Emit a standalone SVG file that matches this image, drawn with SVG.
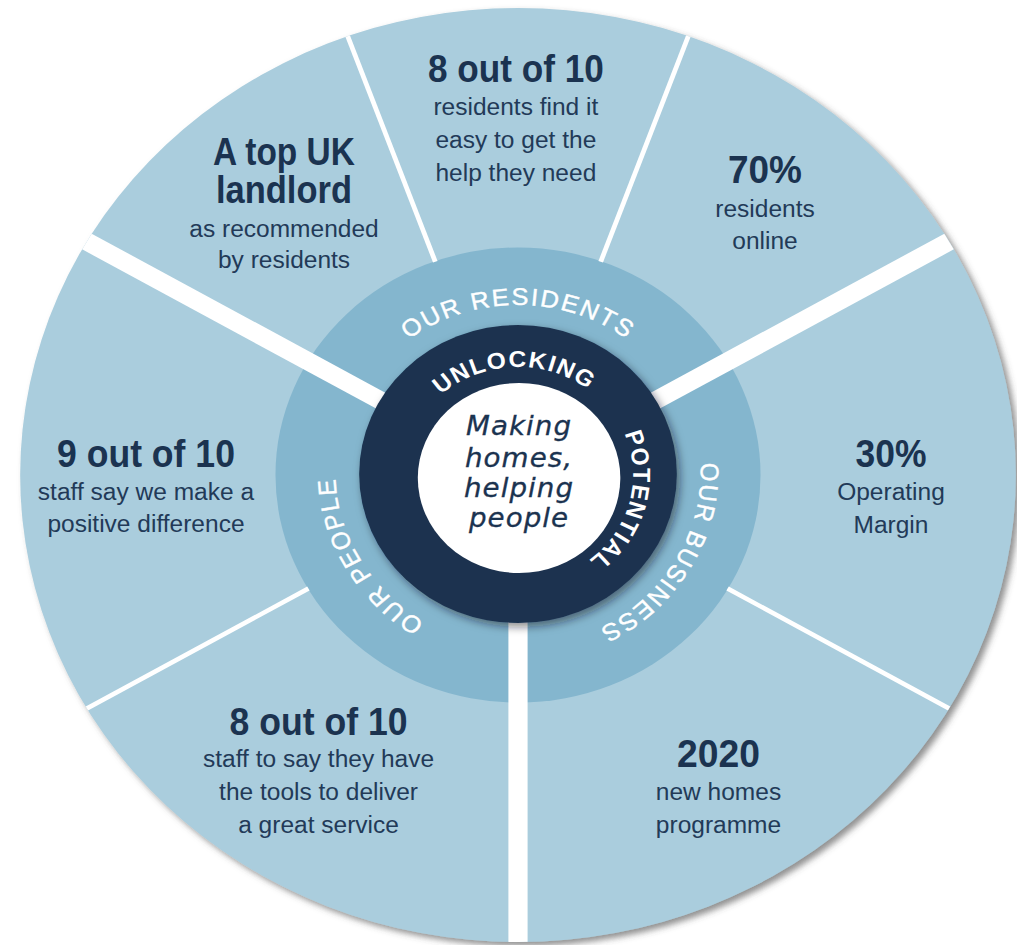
<svg xmlns="http://www.w3.org/2000/svg" width="1017" height="945" viewBox="0 0 1017 945">
<defs>
  <filter id="outerShadow" x="-10%" y="-10%" width="125%" height="125%">
    <feDropShadow dx="4" dy="4" stdDeviation="3" flood-color="#4a4a4a" flood-opacity="0.6"/>
  </filter>
  <filter id="hubShadow" x="-25%" y="-25%" width="150%" height="150%">
    <feDropShadow dx="3" dy="4" stdDeviation="4" flood-color="#0a1422" flood-opacity="0.5"/>
  </filter>
  <clipPath id="discClip"><circle cx="518" cy="475" r="467"/></clipPath>
  <path id="pRes" d="M518,645 A170,170 0 1,1 518,305 A170,170 0 1,1 518,645"/>
  <path id="pBus" d="M370.8,390 A170,170 0 1,1 665.2,560 A170,170 0 1,1 370.8,390"/>
  <path id="pPeo" d="M665.2,390 A170,170 0 1,1 370.8,560 A170,170 0 1,1 665.2,390"/>
  <path id="pUnl" d="M521.8,582.9 A107,107 0 1,1 514.2,367.1 A107,107 0 1,1 521.8,582.9"/>
  <path id="pPot" d="M413.7,447 A107,107 0 1,1 622.3,503 A107,107 0 1,1 413.7,447"/>
</defs>
<style>
  .stat-h { font-family: "Liberation Sans", Arial, sans-serif; font-weight: bold; font-size: 38px; fill: #1b3350; text-anchor: middle; }
  .stat-b { font-family: "Liberation Sans", Arial, sans-serif; font-size: 23px; fill: #223a58; text-anchor: middle; }
  .ring { font-family: "Liberation Sans", Arial, sans-serif; font-size: 24px; fill: #ffffff; stroke: #ffffff; stroke-width: 0.4px; letter-spacing: 1.8px; }
  .hub { font-family: "Liberation Sans", Arial, sans-serif; font-weight: bold; font-size: 23px; fill: #ffffff; letter-spacing: 1.3px; }
  .motto { font-family: "DejaVu Sans", sans-serif; font-style: italic; font-size: 26px; fill: #1b3350; stroke: #1b3350; stroke-width: 0.3px; text-anchor: middle; letter-spacing: 1px; }
  .thin { stroke: #ffffff; stroke-width: 4.5; }
  .thick { stroke: #ffffff; stroke-width: 18; }
</style>
<rect width="1017" height="945" fill="#ffffff"/>
<g transform="translate(518 0) scale(1.066 1) translate(-518 0)">
  <g id="disc">
    <circle cx="518" cy="475" r="467" fill="#aacddd" filter="url(#outerShadow)"/>
    <circle cx="518" cy="475" r="227.5" fill="#84b6ce"/>
  </g>
  <g id="connectors" clip-path="url(#discClip)">
    <line class="thin" x1="440.4" y1="261.7" x2="353.8" y2="23.9"/>
    <line class="thin" x1="595.6" y1="261.7" x2="682.2" y2="23.9"/>
    <line class="thin" x1="321.4" y1="588.5" x2="102.3" y2="715"/>
    <line class="thin" x1="714.6" y1="588.5" x2="933.7" y2="715"/>
    <line class="thick" x1="396.8" y1="405" x2="102.3" y2="235"/>
    <line class="thick" x1="639.2" y1="405" x2="933.7" y2="235"/>
    <line class="thick" x1="518" y1="615" x2="518" y2="955"/>
  </g>
  <g id="ring-residents">
    <text class="ring"><textPath href="#pRes" startOffset="50%" text-anchor="middle">OUR RESIDENTS</textPath></text>
  </g>
  <g id="ring-business">
    <text class="ring"><textPath href="#pBus" startOffset="50%" text-anchor="middle">OUR BUSINESS</textPath></text>
  </g>
  <g id="ring-people">
    <text class="ring"><textPath href="#pPeo" startOffset="50%" text-anchor="middle">OUR PEOPLE</textPath></text>
  </g>
  <g id="center-hub">
    <circle cx="518" cy="474" r="149" fill="#1b3350" filter="url(#hubShadow)"/>
    <circle cx="519" cy="478" r="95" fill="#ffffff"/>
    <text class="hub"><textPath href="#pUnl" startOffset="50%" text-anchor="middle">UNLOCKING</textPath></text>
    <text class="hub"><textPath href="#pPot" startOffset="50%" text-anchor="middle">POTENTIAL</textPath></text>
    <text class="motto" x="519" y="435">Making</text>
    <text class="motto" x="519" y="467">homes,</text>
    <text class="motto" x="519" y="497">helping</text>
    <text class="motto" x="519" y="527">people</text>
  </g>
  <g id="stat-landlord">
    <text class="stat-h" x="298.5" y="165" textLength="133" lengthAdjust="spacingAndGlyphs">A top UK</text>
    <text class="stat-h" x="298.5" y="203" textLength="127.5" lengthAdjust="spacingAndGlyphs">landlord</text>
    <text class="stat-b" x="298.5" y="237">as recommended</text>
    <text class="stat-b" x="298.5" y="268">by residents</text>
  </g>
  <g id="stat-help">
    <text class="stat-h" x="516" y="82" textLength="165" lengthAdjust="spacingAndGlyphs">8 out of 10</text>
    <text class="stat-b" x="516" y="115">residents find it</text>
    <text class="stat-b" x="516" y="148">easy to get the</text>
    <text class="stat-b" x="516" y="181">help they need</text>
  </g>
  <g id="stat-online">
    <text class="stat-h" x="749.7" y="183" textLength="69.4" lengthAdjust="spacingAndGlyphs">70%</text>
    <text class="stat-b" x="749.7" y="217">residents</text>
    <text class="stat-b" x="749.7" y="249">online</text>
  </g>
  <g id="stat-difference">
    <text class="stat-h" x="169" y="467" textLength="167" lengthAdjust="spacingAndGlyphs">9 out of 10</text>
    <text class="stat-b" x="169" y="500">staff say we make a</text>
    <text class="stat-b" x="169" y="532">positive difference</text>
  </g>
  <g id="stat-margin">
    <text class="stat-h" x="867.9" y="467" textLength="66.6" lengthAdjust="spacingAndGlyphs">30%</text>
    <text class="stat-b" x="867.9" y="500">Operating</text>
    <text class="stat-b" x="867.9" y="533">Margin</text>
  </g>
  <g id="stat-tools">
    <text class="stat-h" x="330.9" y="735" textLength="167" lengthAdjust="spacingAndGlyphs">8 out of 10</text>
    <text class="stat-b" x="330.9" y="767">staff to say they have</text>
    <text class="stat-b" x="330.9" y="800">the tools to deliver</text>
    <text class="stat-b" x="330.9" y="833">a great service</text>
  </g>
  <g id="stat-homes">
    <text class="stat-h" x="706.1" y="767" textLength="77.9" lengthAdjust="spacingAndGlyphs">2020</text>
    <text class="stat-b" x="706.1" y="800">new homes</text>
    <text class="stat-b" x="706.1" y="833">programme</text>
  </g>
</g>
</svg>
